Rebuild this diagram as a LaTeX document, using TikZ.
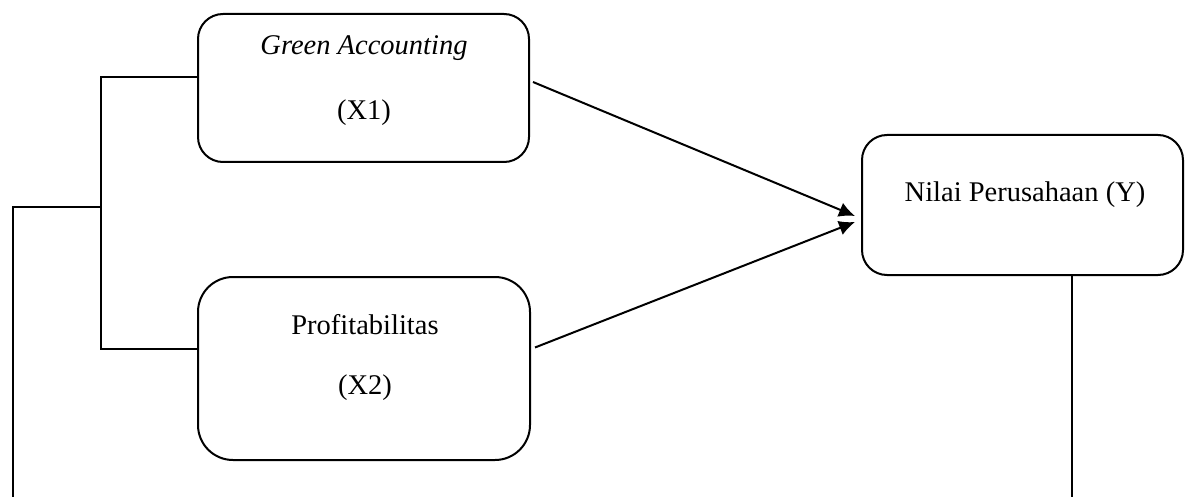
\documentclass[tikz,border=0pt]{standalone}
\usepackage{fontspec}
\setmainfont{Liberation Serif}
\usetikzlibrary{arrows.meta}
\begin{document}
\begin{tikzpicture}[x=1pt,y=-1pt,
  box/.style={draw,line width=2pt,inner sep=0pt,minimum width=#1},
  lbl/.style={font=\fontsize{28.5}{34}\selectfont,inner sep=0pt},
  wire/.style={line width=2pt},
  arr/.style={line width=2pt,-{Latex[length=16pt,width=15pt]}}]
\useasboundingbox (0,0) rectangle (1185,497);
% boxes
\node[box=331pt,minimum height=148pt,rounded corners=25pt] (x1) at (363.5,88) {};
\node[box=332pt,minimum height=183pt,rounded corners=35pt] (x2) at (364,368.5) {};
\node[box=321pt,minimum height=140pt,rounded corners=25pt] (y) at (1022.5,205) {};
% labels
\node[lbl] (t1a) at (364,48) {\itshape Green Accounting};
\node[lbl] (t1b) at (364,113) {(X1)};
\node[lbl] (t2a) at (365,325) {Profitabilitas};
\node[lbl] (t2b) at (365,388) {(X2)};
\node[lbl] (ty) at (1025,195) {Nilai Perusahaan (Y)};
% connector points
\coordinate (a1s) at ([shift={(3,-6)}]x1.east);
\coordinate (a2s) at ([shift={(4,-21)}]x2.east);
\coordinate (a1e) at ([shift={(-6,11)}]y.west);
\coordinate (a2e) at ([shift={(-6,17)}]y.west);
\coordinate (bt) at (101,77);
\coordinate (bm) at (101,207);
\coordinate (bb) at (101,349);
\coordinate (lb) at (13,207);
\coordinate (le) at (13,497);
\coordinate (rs) at (1072,275);
\coordinate (re) at (1072,497);
% arrows
\draw[arr] (a1s) -- (a1e);
\draw[arr] (a2s) -- (a2e);
% bracket
\draw[wire] (x1.west |- bt) -- (bt) -- (bb) -- (x2.west |- bb);
\draw[wire] (bm) -- (lb) -- (le);
\draw[wire] (y.south -| rs) -- (re);
\end{tikzpicture}
\end{document}
